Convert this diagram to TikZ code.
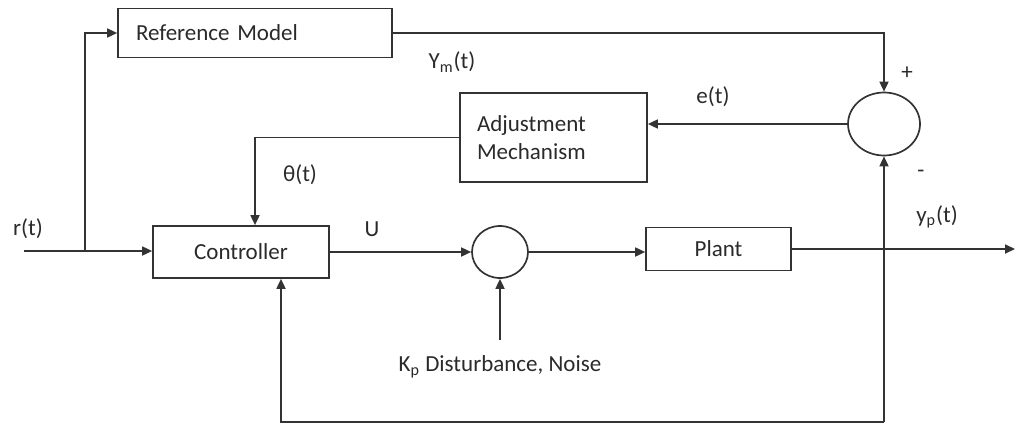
\documentclass[tikz,border=0pt]{standalone}
\usepackage{fontspec}
\setmainfont{Carlito}
\usetikzlibrary{
  arrows.meta,
  shapes.geometric,
  positioning,
  calc
}
\definecolor{mrLine}{HTML}{333333}
\definecolor{mrText}{HTML}{2A2A2A}
\tikzset{
  mrnode/.style={
    draw=mrLine, line width=0.85pt, inner sep=0pt,
    font=\fontsize{11.5}{14}\selectfont, text=mrText
  },
  mrbox/.style={mrnode, rectangle},
  sumnode/.style={mrnode, ellipse},
  flow/.style={-{Triangle[length=5pt,width=4.5pt]}, line width=0.85pt, mrLine},
  netline/.style={line width=0.85pt, mrLine},
  tag/.style={font=\fontsize{11.5}{14}\selectfont, text=mrText, inner sep=1pt}
}

\begin{document}
\begin{tikzpicture}[x=0.5pt, y=-0.5pt]
  \useasboundingbox (0,0) rectangle (1015,423);
  \node[mrbox, minimum width=137pt, minimum height=24.5pt, inner xsep=9pt, text width=119pt, align=left] (refm) at (255,33) {Reference Model};
  \node[mrbox, minimum width=93.5pt, minimum height=44.5pt, inner xsep=8.5pt, text width=76.5pt, align=left, font=\fontsize{11.5}{14}\selectfont] (adj) at (553.5,137.5) {Adjustment\\Mechanism};
  \node[mrbox, minimum width=88pt, minimum height=26pt] (ctrl) at (241,252) {Controller};
  \node[sumnode, minimum width=28pt, minimum height=26pt] (sum1) at (500,252) {};
  \node[mrbox, minimum width=72.5pt, minimum height=21.5pt] (plant) at (718.5,249) {Plant};
  \node[sumnode, minimum width=36pt, minimum height=31.5pt] (sum2) at (884,124) {};
  \coordinate (rin) at (24,251);
  \coordinate (rsplit) at (85,251);
  \coordinate (yout) at (1015,249);
  \coordinate (fb) at (sum2 |- 0,422);
  \coordinate (dist) at (sum1 |- 0,340);
  \draw[netline] (rin) -- (rsplit);
  \draw[flow] (rsplit) -- (rsplit -| ctrl.west);
  \draw[flow] (rsplit) |- (refm.west);
  \draw[flow] (refm.east) -| (sum2.north);
  \draw[flow] (sum2.west) -- (sum2.west -| adj.east);
  \draw[flow] (adj.west) -| ([xshift=7pt]ctrl.north);
  \draw[flow] (ctrl) -- (sum1);
  \draw[flow] (sum1.east) -- (sum1.east -| plant.west);
  \draw[flow] (plant) -- (yout);
  \draw[flow] (fb) -- (sum2.south);
  \draw[flow] (fb) -| ([xshift=20pt]ctrl.south);
  \draw[flow] (dist) -- (sum1.south);
  \node[tag] (rlbl) at (28,229) {r(t)};
  \node[tag] (ymlbl) at (452,62) {Y\textsubscript{m}(t)};
  \node[tag] (thlbl) at (300,175) {θ(t)};
  \node[tag] (ulbl) at (372,229) {U};
  \node[tag] (elbl) at (713,97) {e(t)};
  \node[tag] (plbl) at (907,73) {+};
  \node[tag] (mlbl) at (921,174) {-};
  \node[tag] (yplbl) at (937,217) {y\textsubscript{p}(t)};
  \node[tag] (klbl) at (500,367) {K\textsubscript{p} Disturbance, Noise};
\end{tikzpicture}
\end{document}
